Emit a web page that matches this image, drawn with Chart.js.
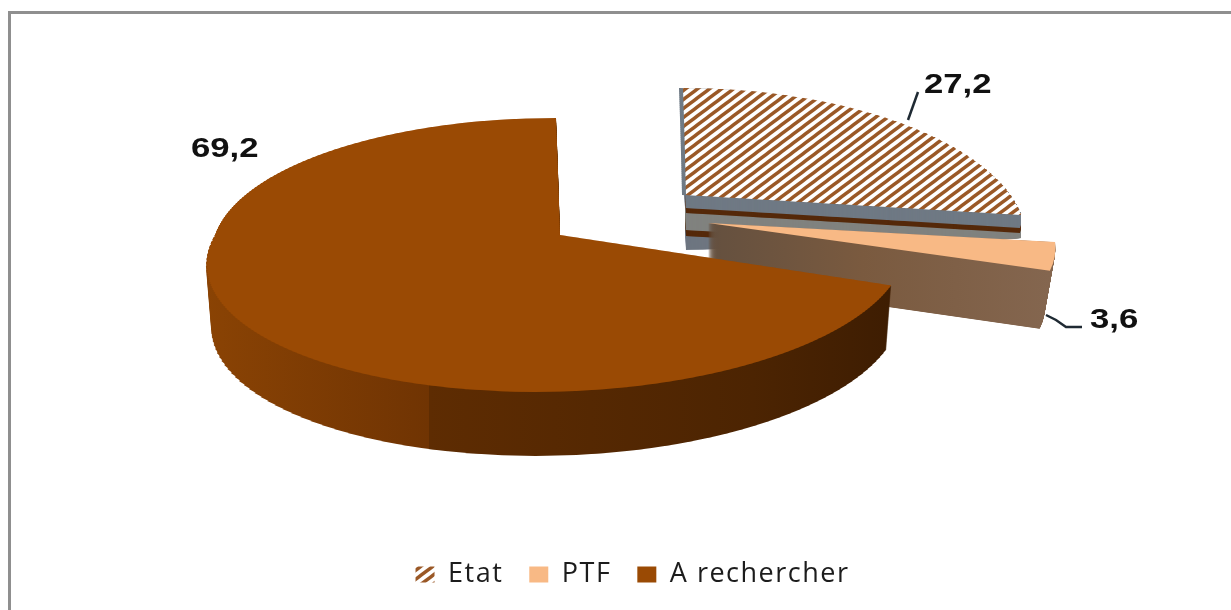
<!DOCTYPE html>
<html><head><meta charset="utf-8">
<script src="https://cdn.jsdelivr.net/npm/chart.js@4/dist/chart.umd.min.js"></script>
<style>
html,body{margin:0;padding:0;background:#fff;overflow:hidden}
#wrap{position:relative;width:1231px;height:610px}
#frame{position:absolute;left:8px;top:11px;right:0;bottom:0;border-left:3px solid #8f8f8f;border-top:3px solid #8f8f8f}
canvas{position:absolute;left:0;top:0}
</style></head><body>
<div id="wrap"><div id="frame"></div><canvas id="c" width="1231" height="610"></canvas></div>
<script>
const categories = ['Etat', 'PTF', 'A rechercher'];
const values = [27.2, 3.6, 69.2];
const faceColors = ['hatch', '#f8b985', '#9a4a04'];
const legendFont = { family: '"Open Sans"', size: 27 };

const W = 1231, H = 610;
const TW = 12, TH = 9;
const tile = document.createElement('canvas');
tile.width = TW; tile.height = TH;
const tc = tile.getContext('2d');
tc.fillStyle = '#ffffff'; tc.fillRect(0, 0, TW, TH);
tc.strokeStyle = '#9a5826'; tc.lineWidth = 3.4;
for (const n of [-1, 0, 1]) {
  tc.beginPath(); tc.moveTo(-TW, 2 * TH + TH * n); tc.lineTo(2 * TW, -TH + TH * n); tc.stroke();
}
const hatch = tc.createPattern(tile, 'repeat');
const backgrounds = faceColors.map(c => c === 'hatch' ? hatch : c);

function paint(arc, ctx, color) {
  const old = arc.options.backgroundColor;
  arc.options.backgroundColor = color;
  if (color === hatch) hatch.setTransform(ctx.getTransform().inverse());
  arc.draw(ctx);
  arc.options.backgroundColor = old;
}
function affine(ctx, arc, ax, ay, m) {
  const R = arc.outerRadius;
  ctx.translate(ax, ay);
  ctx.transform(m[0] / R, m[1] / R, m[2] / R, m[3] / R, 0, 0);
  ctx.translate(-arc.x, -arc.y);
}
// perspective view of a slice, drawn strip by strip
const bigView = { px: 560, py: 235, a: 134, b: 0.146, c: 345, eUp: 4, eDown: -25, top: -118, bottom: 158 };
const etatView = { px: 686, py: 195, a: 139, b: 0.3, c: 324.5, eUp: 3, eDown: 0, top: -108, bottom: 26 };
const ptfView = { ax: 708, ay: 223, m: [341.5, 1, 64, 131.6] };
function warp(ctx, arc, g, color, step) {
  const R = arc.outerRadius;
  for (let y = g.top; y < g.bottom; y += step) {
    const ym = y + step / 2, v = ym / (g.a + g.b * ym), den = 1 - g.b * v;
    const sx = g.c / den / R, sy = g.a / (den * den) / R;
    const e = v < 0 ? g.eUp : g.eDown;
    ctx.save();
    ctx.beginPath(); ctx.rect(0, g.py + y, W, step + 0.5); ctx.clip();
    ctx.translate(g.px + e * v, g.py + ym);
    ctx.scale(sx, sy);
    ctx.translate(-arc.x, -arc.y - R * v);
    paint(arc, ctx, color);
    ctx.restore();
  }
}

const etatBands = [[13, '#6f7984'], [18, '#55290a'], [35, '#80827f'], [41, '#55290a'], [55, '#6e7680']];
const labelPlace = [
  { dx: 238, dy: -102, leader: [[222, -75], [232, -103]] },
  { dx: 382, dy: 105, leader: [[338, 92], [348, 97], [358, 104], [374, 104]] },
  { dx: -369, dy: -78, leader: null }
];
const apexes = [[etatView.px, etatView.py], [ptfView.ax, ptfView.ay], [bigView.px, bigView.py]];

const pie3d = {
  id: 'pie3d',
  beforeDatasetsDraw(chart) {
    const ctx = chart.ctx, arcs = chart.getDatasetMeta(0).data;
    ctx.letterSpacing = '0px';

    // Etat: wall, then hatched top
    const ax = etatView.px, ay = etatView.py;
    const slope = (16 + 27 - 55) / 335;
    ctx.save();
    ctx.beginPath();
    ctx.moveTo(ax - 30, ay - 160);
    ctx.lineTo(ax + 400, ay - 160);
    ctx.lineTo(ax + 400, ay + 55 + slope * 400);
    ctx.lineTo(ax, ay + 55);
    ctx.lineTo(ax - 30, ay + 55);
    ctx.closePath(); ctx.clip();
    for (let d = 55; d >= 1; d--) {
      const col = etatBands.find(b => d <= b[0])[1];
      ctx.save(); ctx.translate(0, d);
      warp(ctx, arcs[0], etatView, col, 4);
      ctx.restore();
    }
    ctx.restore();
    ctx.save(); ctx.translate(-4, 0);
    warp(ctx, arcs[0], etatView, '#6f7a85', 2);
    ctx.restore();
    warp(ctx, arcs[0], etatView, hatch, 2);

    // PTF: wall, then top
    const off1 = document.createElement('canvas'); off1.width = W; off1.height = H;
    const o1 = off1.getContext('2d');
    for (let d = 58; d >= 0.25; d -= 0.25) {
      const t = d / 58, m = ptfView.m;
      o1.save(); affine(o1, arcs[1], ptfView.ax, ptfView.ay + d, [m[0] * (1 - 0.03 * t), m[1], m[2] * (1 - 0.03 * t), m[3]]);
      paint(arcs[1], o1, '#000'); o1.restore();
    }
    o1.globalCompositeOperation = 'source-atop';
    const g1 = o1.createLinearGradient(708, 0, 1050, 0);
    g1.addColorStop(0, '#64503f'); g1.addColorStop(0.45, '#7a5a3f'); g1.addColorStop(1, '#84664f');
    o1.fillStyle = g1; o1.fillRect(0, 0, W, H);
    ctx.drawImage(off1, 0, 0);
    ctx.save(); affine(ctx, arcs[1], ptfView.ax, ptfView.ay, ptfView.m);
    paint(arcs[1], ctx, faceColors[1]); ctx.restore();

    // A rechercher: wall, then top
    const off2 = document.createElement('canvas'); off2.width = W; off2.height = H;
    const o2 = off2.getContext('2d');
    for (let d = 64; d >= 1; d -= 1) {
      const t = d / 64;
      o2.save();
      o2.transform(1 - 0.015 * t, 0, 0, 1, bigView.px * 0.015 * t, d);
      warp(o2, arcs[2], bigView, '#000', 4);
      o2.restore();
    }
    o2.globalCompositeOperation = 'source-atop';
    const g2 = o2.createLinearGradient(205, 0, 890, 0);
    const cut = (429 - 205) / 685;
    g2.addColorStop(0, '#8a4304'); g2.addColorStop(cut, '#703403');
    g2.addColorStop(cut, '#5e2c02'); g2.addColorStop(0.8, '#4c2402'); g2.addColorStop(1, '#3e1d02');
    o2.fillStyle = g2; o2.fillRect(0, 0, W, H);
    ctx.drawImage(off2, 0, 0);
    warp(ctx, arcs[2], bigView, faceColors[2], 2);

    // value labels with leader lines
    values.forEach((val, i) => {
      const p = labelPlace[i], a = apexes[i];
      if (p.leader) {
        ctx.save();
        ctx.strokeStyle = '#1f2a33'; ctx.lineWidth = 2.5;
        ctx.beginPath();
        p.leader.forEach((q, j) => j ? ctx.lineTo(a[0] + q[0], a[1] + q[1]) : ctx.moveTo(a[0] + q[0], a[1] + q[1]));
        ctx.stroke(); ctx.restore();
      }
      ctx.save();
      ctx.translate(a[0] + p.dx, a[1] + p.dy);
      ctx.scale(1.24, 1);
      ctx.font = 'bold 28px "Liberation Sans"';
      ctx.fillStyle = '#111';
      ctx.textAlign = 'left'; ctx.textBaseline = 'alphabetic';
      ctx.fillText(String(val).replace('.', ','), 0, 0);
      ctx.restore();
    });
    return false;
  }
};
const spacing = {
  id: 'spacing',
  beforeUpdate(chart) { chart.ctx.letterSpacing = '1.5px'; },
  beforeDraw(chart) { chart.ctx.letterSpacing = '1.5px'; }
};

new Chart(document.getElementById('c'), {
  type: 'pie',
  plugins: [spacing, pie3d],
  data: {
    labels: categories,
    datasets: [{ data: values, backgroundColor: backgrounds, borderWidth: 0 }]
  },
  options: {
    responsive: false,
    devicePixelRatio: 1,
    animation: false,
    events: [],
    layout: { padding: { left: 34, bottom: 12 } },
    plugins: {
      tooltip: { enabled: false },
      legend: {
        position: 'bottom',
        labels: { boxWidth: 19, boxHeight: 16, padding: 26, color: '#1c1c1c', font: legendFont }
      }
    }
  }
});
</script>
</body></html>
